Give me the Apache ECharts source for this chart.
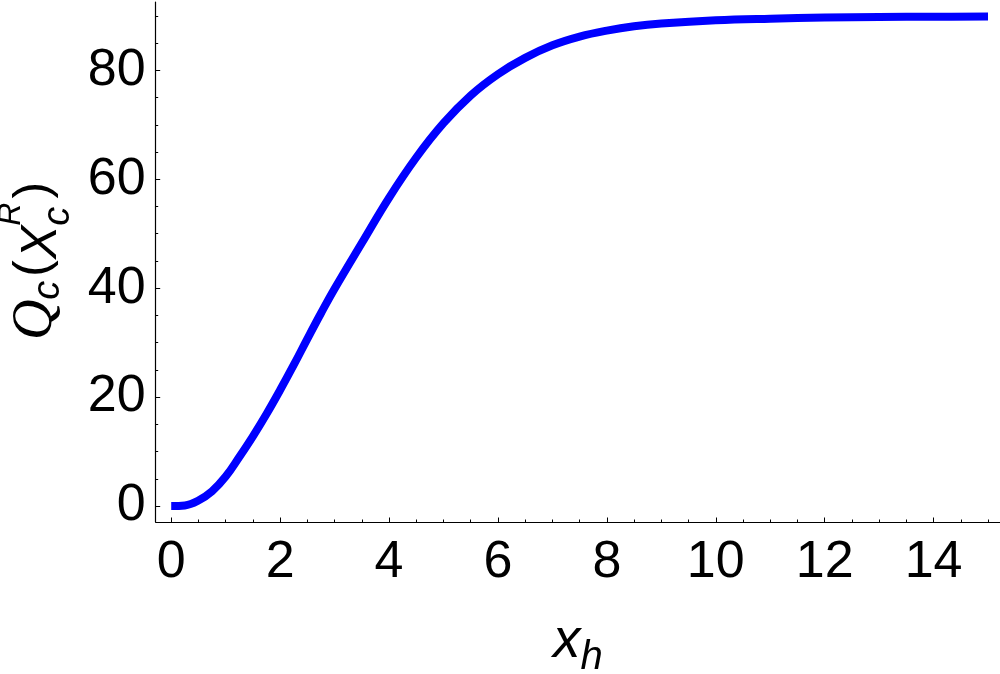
<!DOCTYPE html>
<html>
<head>
<meta charset="utf-8">
<script src="https://cdn.jsdelivr.net/npm/echarts@6.0.0/dist/echarts.min.js"></script>
<style>
  html, body { margin: 0; padding: 0; background: #fff; }
  #chart { width: 1000px; height: 674px; }
</style>
</head>
<body>
<div id="chart"></div>
<script>
// curve
const xh = [0, 0.25, 0.5, 0.75, 1, 1.25, 1.5, 1.75, 2, 2.25, 2.5, 2.75, 3, 3.5, 4, 4.5,
  5, 5.5, 6, 6.5, 7, 7.5, 8, 8.5, 9, 10, 11, 12, 13, 14, 15];
const qc = [0, 0.1, 1.0, 2.7, 5.4, 9.0, 12.8, 16.9, 21.3, 25.9, 30.7, 35.4, 39.9, 48.3, 56.6, 64.0,
  70.3, 75.4, 79.3, 82.3, 84.6, 86.2, 87.3, 88.1, 88.6, 89.2, 89.5, 89.7, 89.8, 89.85, 89.9];

// ticks
const xTicks = [0, 2, 4, 6, 8, 10, 12, 14];
const xMinorTicks = [0.5, 1, 1.5, 2.5, 3, 3.5, 4.5, 5, 5.5, 6.5, 7, 7.5, 8.5, 9, 9.5,
  10.5, 11, 11.5, 12.5, 13, 13.5, 14.5, 15];
const yTicks = [0, 20, 40, 60, 80];
const yMinorTicks = [5, 10, 15, 25, 30, 35, 45, 50, 55, 65, 70, 75, 85, 90];

const xRange = [-0.285, 15.22];
const yRange = [-2.94, 92.56];

const sans = 'Liberation Sans';
const serif = 'Liberation Serif';

// rich-text pieces for the axis names (top-aligned, moved by top padding)
function piece(size, top, family, italic, extra) {
  return Object.assign({
    fontSize: size,
    fontFamily: family,
    fontStyle: italic ? 'italic' : 'normal',
    color: '#000',
    height: 20,
    lineHeight: 72,
    align: 'left',
    verticalAlign: 'top',
    padding: [top, 0, 0, 0]
  }, extra || {});
}

const chart = echarts.init(document.getElementById('chart'), null, { renderer: 'canvas' });

const option = {
  animation: false,
  backgroundColor: '#fff',
  grid: {
    left: 155.7,
    right: 0,
    top: 2,
    bottom: 152,
    containLabel: false,
    outerBoundsMode: 'none'
  },
  xAxis: [
    {
      type: 'value',
      min: xRange[0],
      max: xRange[1],
      name: '{x|x}{h|h}',
      nameLocation: 'middle',
      nameGap: 81,
      nameTextStyle: {
        rich: {
          x: piece(55, 29, sans, true, { lineHeight: 70 }),
          h: piece(40, 45, sans, true, { lineHeight: 70 })
        }
      },
      axisLine: { show: true, onZero: false, lineStyle: { color: '#000', width: 1.2 } },
      axisTick: { show: true, inside: true, length: 4.5, customValues: xTicks, lineStyle: { color: '#000', width: 1 } },
      axisLabel: {
        show: true,
        customValues: xTicks,
        margin: 14.5,
        fontSize: 52,
        fontFamily: sans,
        color: '#000'
      },
      splitLine: { show: false }
    },
    {
      // minor ticks only
      type: 'value',
      min: xRange[0],
      max: xRange[1],
      position: 'bottom',
      offset: 0,
      axisLine: { show: false, onZero: false },
      axisTick: { show: true, inside: true, length: 2.5, customValues: xMinorTicks, lineStyle: { color: '#000', width: 1 } },
      axisLabel: { show: false },
      splitLine: { show: false }
    }
  ],
  yAxis: [
    {
      type: 'value',
      min: yRange[0],
      max: yRange[1],
      name: '{q|Q}{c1|c}{p|(}{x|X}{c2|c}{r|R}{p|)}',
      nameLocation: 'middle',
      nameGap: 86,
      nameTextStyle: {
        rich: {
          q: piece(56, 29, serif, true, { padding: [29, 0, 0, 3] }),
          c1: piece(38, 41.7, sans, true, { padding: [41.7, 3, 0, 0] }),
          p: piece(50, 27, sans, false, { padding: [27, 1, 0, 1] }),
          x: piece(50, 35.5, sans, true),
          c2: piece(38, 51, sans, true, { width: 0 }),
          r: piece(32, 3.8, sans, true, { padding: [3.8, 3, 0, 0] })
        }
      },
      axisLine: { show: true, onZero: false, lineStyle: { color: '#000', width: 1.2 } },
      axisTick: { show: true, inside: true, length: 4.5, customValues: yTicks, lineStyle: { color: '#000', width: 1 } },
      axisLabel: {
        show: true,
        customValues: yTicks,
        margin: 10,
        fontSize: 52,
        fontFamily: sans,
        color: '#000'
      },
      splitLine: { show: false }
    },
    {
      // minor ticks only
      type: 'value',
      min: yRange[0],
      max: yRange[1],
      position: 'left',
      offset: 0,
      axisLine: { show: false, onZero: false },
      axisTick: { show: true, inside: true, length: 2.5, customValues: yMinorTicks, lineStyle: { color: '#000', width: 1 } },
      axisLabel: { show: false },
      splitLine: { show: false }
    }
  ],
  series: [
    {
      type: 'line',
      xAxisIndex: 0,
      yAxisIndex: 0,
      data: xh.map((x, i) => [x, qc[i]]),
      smooth: 0.4,
      showSymbol: false,
      lineStyle: { color: '#0000ff', width: 8, cap: 'butt' },
      itemStyle: { color: '#0000ff' }
    }
  ]
};

chart.setOption(option);
</script>
</body>
</html>
